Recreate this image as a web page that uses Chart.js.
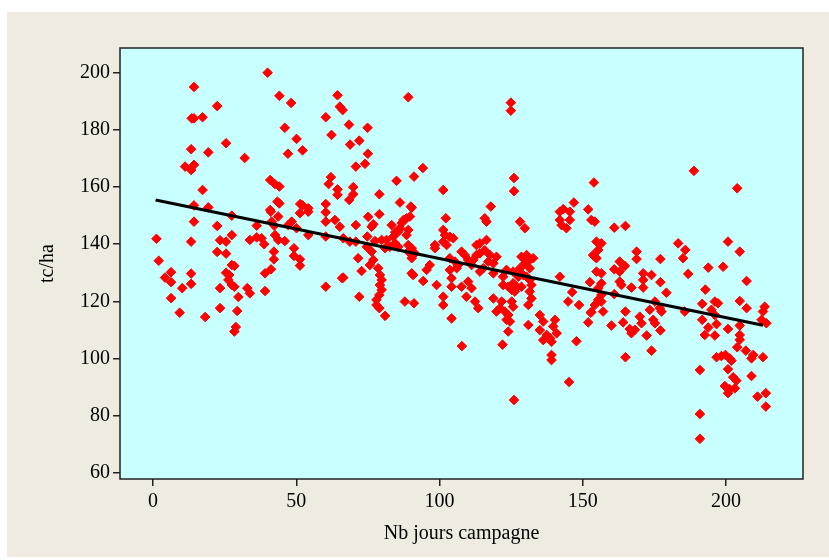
<!DOCTYPE html>
<html>
<head>
<meta charset="utf-8">
<script src="https://cdn.jsdelivr.net/npm/chart.js@4"></script>
<style>
  html, body { margin: 0; padding: 0; background: #fff; }
  #wrap { width: 829px; height: 560px; }
</style>
</head>
<body>
<div id="wrap"><canvas id="chart" width="829" height="560"></canvas></div>
<script>
// Nb jours campagne (x) and tc/ha (y), one line per ~20 days
const nbJours = [
  1.2,2,4.2,6.3,6.3,6.3,10.2,9.3,11.2,13.3,14.3,13.3,13.5,14.3,14.3,17.3,19.3,17.3,14.3,19.3,14.3,13.3,13.3,13.3,18.2,
  22.4,25.5,32,22.4,27.5,23.4,25.5,27.5,22.4,25.5,27.5,28.4,25.5,26.6,26.3,27.5,23.4,23.4,29.4,29.8,28.4,28.9,28.4,32.9,33.8,39.1,36.2,33.8,36.2,37.9,38.8,39.1,
  40,44.1,48.2,46,50.1,47.1,52.2,40.9,42.5,44.1,43.4,44.1,40.9,51.4,52.2,54.2,41.1,43.7,41.4,42.3,42.6,43.7,46,42.2,42.2,41.2,49.2,49.2,51.3,51.3,48.4,50.1,47.2,54.2,51.3,54.2,
  64.4,65.2,66.2,60.3,62.3,62.1,61.3,64.4,64.4,60.3,60.3,60.3,63.5,65.2,60.3,60.3,66,68.4,74.9,68.8,72,75,70.8,74,79,69.9,69.9,68.5,66.4,68.7,70.8,75.1,79,76.3,76.9,66.4,70.8,71.6,72.8,74.8,74.6,77.5,79.8,76.3,76.9,75.7,78.6,79.2,79.8,79.2,79.8,79,78,78,79,72,
  89.1,94.2,91.1,85,86.2,90,81,81,82.7,81.5,83.3,83.9,84.5,85.6,86.2,87.4,86.8,88.5,89.7,90.3,89.1,88.5,84.5,85.6,89.1,90.3,89.1,91.4,90.3,90.3,90.8,96.6,95.5,94.3,87.9,91.1,99,98.4,98.4,
  101.3,102.2,101.3,101.9,103.6,104.8,101.3,102.5,103.6,105.4,106.5,106,103.6,104.2,104.2,101.3,101.3,104.2,107.7,110,111.2,109.4,112.4,113.5,107.7,108.8,110,111.8,111.2,112.9,114.1,112.9,114.1,116.4,115.8,117.6,117,118.8,115.3,114.1,119.9,117.9,115.8,116.4,118.8,118.8,119.9,107.8,
  124.9,124.9,126,126,121.7,121.1,122.8,124,123.4,124.6,125.2,125.7,124,122,122.2,124,125.7,125.2,126.9,126.3,128.6,122.2,127.5,123.4,125.7,128.1,129.2,130.4,128.6,130.4,131.5,132.7,129.8,131.5,128.1,129.8,131.5,132.1,131.5,132.1,131,131,135,136.2,135,137.4,138.6,136.2,139.1,139.1,139.1,126,
  143.2,140.3,139.7,140.9,142,142,142.6,145.5,145.5,142,144.9,145.2,146.9,151.9,153.9,144.3,153,154.2,154.8,156.5,155.4,154.2,153.6,154.8,154.8,156.5,152.5,156.5,155.4,156.5,155.4,156.5,154.2,157.1,153,146.3,148.7,152.8,151.9,147.8,
  161,164.9,168.8,168.8,177.1,161,162.9,164.7,162.9,171.1,174,171.1,171.1,167,177.1,179.2,161,162.9,163.5,160,164.9,164.1,166.4,167,168.2,169.9,170.5,173.4,174.6,175.2,176.9,177.5,172.3,177.1,175.2,164.9,174,
  188.8,203.9,183.3,185.8,185,200.7,204.8,186.8,193.8,199,207.2,192.8,185.6,191.7,196.1,197.2,194.9,196.1,191.7,193.8,196.7,200.7,204.8,204.8,204.8,207.2,213.5,212.9,214.1,212.4,192.6,196.1,204.8,190.9,190.9,190.9,196.7,198.4,199.8,201.3,201.9,203.9,206.9,209.5,208.9,212.9,200.7,208.9,202.5,203.6,199.6,201.3,200.7,203.1,211,213.9,213.9
];
const tcHa = [
  141.9,134.2,128.3,130.2,126.7,121.1,124.6,116,167.2,166,167.8,173.3,184.1,184.1,195.1,184.5,172.2,159,153.6,152.9,147.9,140.9,129.7,126.1,114.5,
  188.4,175.4,170.2,146.4,150,141.4,140.9,143.2,137.3,136.7,132.7,132.4,130,129.2,127.5,125.7,124.6,117.6,116.6,121.5,125.1,111,109.4,124.6,122.8,123.6,146.5,141.5,142.4,142.1,140,129.8,
  200.1,192,189.5,180.8,176.9,171.7,172.9,162.5,161.1,160.2,154.9,154.3,152,154.1,153.6,152.6,151.4,149.7,147.9,146.5,143.2,141.5,141.1,137.4,134.7,131.2,138.6,135.9,134.7,132.5,147.9,145.6,146.7,143.2,150.9,151.4,
  192.2,188.2,187,184.5,178.3,163.5,161.1,159.2,157.3,154.1,151.2,147.9,148.5,146.1,142.7,125.1,128.1,181.9,180.8,174.9,176.3,171.7,167.2,168.2,157.5,160,157.5,155.5,142.1,140.9,146.7,149.6,150.5,146.1,147,128.3,140.9,135.1,130.6,142.7,139.1,141.1,141.5,137.4,134.5,132.7,131.6,129.2,127.5,125.7,124,122.2,120.5,118.7,117.6,121.6,
  191.5,166.7,163.7,162.2,154.6,153.2,114.9,138.6,139.1,141.5,146.7,142.7,144.2,144.4,145.6,148.5,147.4,149.1,149.7,152.8,145,143.2,140.3,139.1,139.7,138.6,137.4,136.8,135.1,129.8,129.2,132.7,131,127.1,119.9,119.3,125.7,139.7,138.6,
  159,149.1,145,143.2,142.6,142.1,140.9,139.7,135.1,133.9,132.7,131.6,131,128.1,125.1,121.6,118.7,114,125.1,126.9,124.6,121.6,119.9,117.6,137.4,136.2,134.5,134.5,132.7,136.2,136.8,139.7,140.3,141.5,137.9,136.2,133.9,133.3,131.6,130.4,135.6,153.2,149.1,147.9,129.8,121,116.4,104.3,
  189.6,186.8,163.2,158.6,119.9,117.6,116.4,115.2,113.5,112.9,119.9,118.1,109.4,104.8,125.7,125.1,126.3,124,125.1,123.4,125.1,128.6,128.6,131,130.4,131.6,129.2,128.6,135.6,136.2,134.5,135.1,133.3,131.6,147.9,145.6,127.5,125.7,123.4,121,118.7,111.7,115.2,112.9,109.9,108.2,107,106.4,105.8,101.2,99.4,85.4,
  152.3,113.5,111.2,108.8,151.4,148.5,146.7,151.4,148.5,128.6,119.9,91.7,154.6,152.2,161.6,145.6,148.5,147.9,140.9,140.3,138,135.6,136.2,135.1,130.4,129.8,126.7,126.3,124.6,122.2,120.5,119.9,118.7,116.4,116.2,123.2,118.7,116,112.6,106,
  145.8,146.4,137.4,134.8,134.8,131.2,133.9,132.4,130.4,129.8,129.2,127.5,124.8,124.8,126.7,123,122.5,126.9,125.7,111.5,116.4,112.6,110.3,108.8,110,114.6,112.3,117,113.5,112.3,117.6,116.4,108,109.8,119.9,100.4,102.7,
  165.7,159.6,140.3,138,135.1,140.9,137.4,129.6,131.8,132.1,127.1,124.1,116.4,119.1,119.9,119.3,117,115.2,113.5,110.8,112,110.3,111.5,108.2,120.1,117.6,118.1,116.4,112.3,113.5,108.2,108,106.5,95.9,80.5,71.8,100.4,100.8,101.2,100,99.2,103.9,102.7,101.2,100,100.4,96.2,93.8,93.4,92.2,90.3,89.2,87.8,89.5,86.6,87.8,83.1
];

// fitted line, start and end
const fitX = [0.9, 212.9];
const fitY = [155.5, 111.6];

const xTicks = [0, 50, 100, 150, 200];
const yTicks = [60, 80, 100, 120, 140, 160, 180, 200];

const font = { family: "Liberation Serif", size: 20 };

const background = {
  id: "background",
  beforeDraw(chart) {
    const ctx = chart.ctx;
    const a = chart.chartArea;
    ctx.save();
    ctx.fillStyle = "#ffffff";
    ctx.fillRect(0, 0, chart.width, chart.height);
    ctx.fillStyle = "#efebe1";
    ctx.fillRect(7, 12, chart.width - 7, 545);
    ctx.fillStyle = "#c8ffff";
    ctx.fillRect(a.left, a.top, a.right - a.left, a.bottom - a.top);
    ctx.restore();
  },
  afterDraw(chart) {
    const ctx = chart.ctx;
    const a = chart.chartArea;
    ctx.save();
    ctx.strokeStyle = "#222";
    ctx.lineWidth = 1.5;
    ctx.strokeRect(a.left, a.top, a.right - a.left, a.bottom - a.top);
    ctx.restore();
  }
};

new Chart(document.getElementById("chart"), {
  type: "scatter",
  data: {
    datasets: [
      {
        label: "fit",
        data: fitX.map((x, i) => ({ x: x, y: fitY[i] })),
        showLine: true,
        borderColor: "#000",
        borderWidth: 3,
        pointRadius: 0,
        order: 0
      },
      {
        label: "tc/ha",
        data: nbJours.map((x, i) => ({ x: x, y: tcHa[i] })),
        pointStyle: "rectRot",
        pointRadius: 4.8,
        borderWidth: 1,
        backgroundColor: "#ff0000",
        borderColor: "#ff0000",
        order: 1
      }
    ]
  },
  options: {
    responsive: false,
    animation: false,
    layout: { padding: { left: 0, top: 48, right: 26, bottom: 0 } },
    plugins: {
      legend: { display: false },
      tooltip: { enabled: false }
    },
    scales: {
      x: {
        type: "linear",
        min: -11.52,
        max: 226.88,
        afterBuildTicks: s => { s.ticks = xTicks.map(v => ({ value: v })); },
        afterFit: s => { s.height = 81; },
        grid: { drawOnChartArea: false, tickLength: 7, color: "#222", lineWidth: 1.5 },
        border: { display: false },
        ticks: { color: "#000", font: font, padding: 4, maxRotation: 0 },
        title: { display: true, text: "Nb jours campagne", color: "#000", font: font, padding: { top: 0, bottom: 14 } }
      },
      y: {
        type: "linear",
        min: 57.72,
        max: 208.76,
        afterBuildTicks: s => { s.ticks = yTicks.map(v => ({ value: v })); },
        afterFit: s => { s.width = 120; },
        grid: { drawOnChartArea: false, tickLength: 7, color: "#222", lineWidth: 1.5 },
        border: { display: false },
        ticks: { color: "#000", font: font, padding: 3 },
        title: { display: true, text: "tc/ha", color: "#000", font: font, padding: { top: 36, bottom: 0 } }
      }
    }
  },
  plugins: [background]
});
</script>
</body>
</html>
